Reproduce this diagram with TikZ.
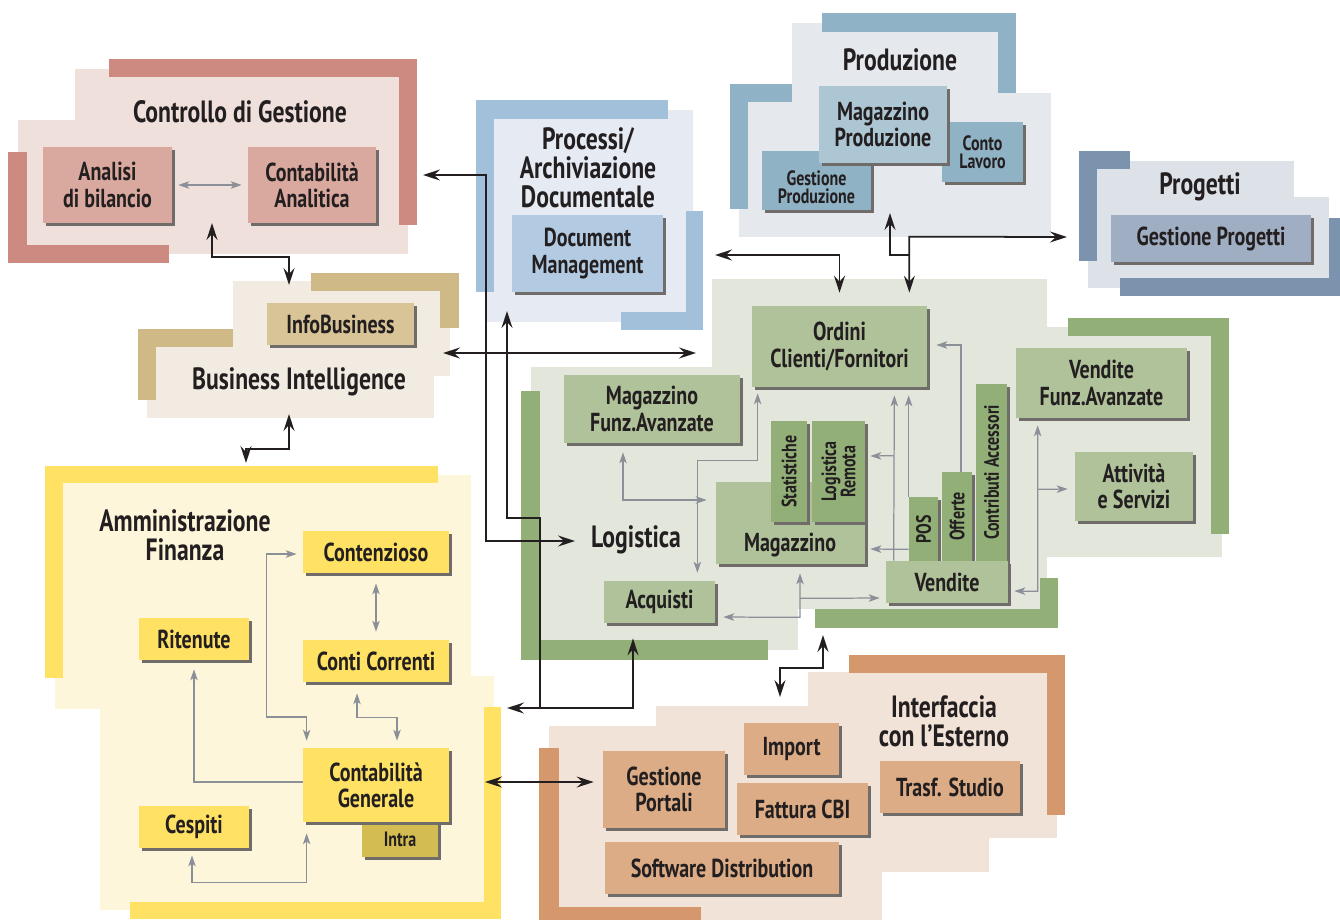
\documentclass[tikz,border=0pt]{standalone}
\usepackage{fontspec}
\setmainfont{PT Sans}[FakeStretch=0.77]
\usetikzlibrary{arrows.meta,calc}

\definecolor{txt}{HTML}{231F20}
\definecolor{shadowc}{HTML}{6F6C69}
\definecolor{grayarr}{HTML}{8A8F98}
\definecolor{cgbar}{HTML}{CD8A80}
\definecolor{cgbg}{HTML}{F0E0DC}
\definecolor{cgbox}{HTML}{D9A89E}
\definecolor{pabar}{HTML}{A3C0DB}
\definecolor{pabg}{HTML}{E5EAF3}
\definecolor{pabox}{HTML}{B3CBE2}
\definecolor{prbar}{HTML}{8FB2C6}
\definecolor{prbg}{HTML}{E5E9EE}
\definecolor{prbox}{HTML}{ADC6D3}
\definecolor{prdark}{HTML}{90B2C5}
\definecolor{pgbar}{HTML}{7B93AC}
\definecolor{pgbg}{HTML}{DDE2E8}
\definecolor{pgbox}{HTML}{9FAEC2}
\definecolor{bibar}{HTML}{CFB987}
\definecolor{bibg}{HTML}{F1EBE1}
\definecolor{bibox}{HTML}{D8C496}
\definecolor{lgbar}{HTML}{92AF78}
\definecolor{lgbg}{HTML}{E3E7DB}
\definecolor{lgbox}{HTML}{B0C29A}
\definecolor{afbar}{HTML}{FFE263}
\definecolor{afbg}{HTML}{FEF6DB}
\definecolor{afintra}{HTML}{D3BC52}
\definecolor{iebar}{HTML}{D4986C}
\definecolor{iebg}{HTML}{F2E3D8}
\definecolor{iebox}{HTML}{DBAC86}

\begin{document}
\begin{tikzpicture}[x=0.2mm,y=-0.2mm,
		shad/.style={
			preaction={fill=shadowc,transform canvas={xshift=0.6mm,yshift=-0.6mm}}
		},
		lbl/.style={
			inner sep=0pt,
			align=center,
			text=txt,
			font=\bfseries\fontsize{14.8}{15}\selectfont
		},
		box/.style={shad,lbl},
		small/.style={font=\bfseries\fontsize{11.8}{10.5}\selectfont},
		vert/.style={
			rotate=90,
			align=center,
			text=txt,
			font=\bfseries\fontsize{11.8}{11}\selectfont
		},
		title/.style={
			align=center,
			text=txt,
			font=\bfseries\fontsize{17.5}{16.5}\selectfont
		},
		sz/.style 2 args={minimum width=#1*0.2mm,minimum height=#2*0.2mm},
		barrow/.style={draw=txt,line width=1pt,>={Stealth[length=3.4mm,width=2.2mm,inset=1.2mm]}},
		garrow/.style={draw=grayarr,line width=0.7pt,>={Stealth[length=2.2mm,width=1.5mm,inset=0.6mm]}}
		]
		\useasboundingbox (0,0) rectangle (1340,920);

		% Controllo di Gestione
		\foreach \xa/\ya/\xb/\yb in {75/69/408/254, 18/120/408/254}
			\fill[cgbg] (\xa,\ya) rectangle (\xb,\yb);
		\foreach \xa/\ya/\xb/\yb in {109/59/417/77, 399/59/417/225, 8/152/27/263, 8/245/169/263}
			\fill[cgbar] (\xa,\ya) rectangle (\xb,\yb);
		\node[title] (cgtitle) at (240,112) {Controllo di Gestione};
		\node[box,fill=cgbox,sz={129}{76}] (analisi) at (107.5,185) {Analisi\\di bilancio};
		\node[box,fill=cgbox,sz={128}{76}] (contan) at (312,185) {Contabilità\\Analitica};

		% Processi
		\fill[pabg] (487,110) rectangle (693,322);
		\foreach \xa/\ya/\xb/\yb in {476/100/668/119, 476/100/494/292, 686/211/703/330, 621/312/703/330}
			\fill[pabar] (\xa,\ya) rectangle (\xb,\yb);
		\node[title] (patitle) at (588,168) {Processi/\\Archiviazione\\Documentale};
		\node[box,fill=pabox,sz={151}{77}] (docman) at (587.5,253.5) {Document\\Management};

		% Produzione
		\foreach \xa/\ya/\xb/\yb in {792/23/1005/237, 739/93/1051/237}
			\fill[prbg] (\xa,\ya) rectangle (\xb,\yb);
		\foreach \xa/\ya/\xb/\yb in {822/13/1016/32, 998/13/1016/93, 730/84/748/209, 730/84/792/102}
			\fill[prbar] (\xa,\ya) rectangle (\xb,\yb);
		\node[title] (prtitle) at (900,60) {Produzione};
		\node[box,fill=prdark,sz={109}{59}] (gestprod) at (816.5,180.5) {};
		\node[lbl,small] (gestprod-t) at (816.5,187) {Gestione\\Produzione};
		\node[box,small,fill=prdark,sz={81}{60}] (contolav) at (982.5,152) {Conto\\Lavoro};
		\node[box,fill=prbox,sz={128}{77}] (magprod) at (883,124.5) {Magazzino\\Produzione};

		% Progetti
		\foreach \xa/\ya/\xb/\yb in {1088/161/1294/288, 1088/197/1329/288}
			\fill[pgbg] (\xa,\ya) rectangle (\xb,\yb);
		\foreach \xa/\ya/\xb/\yb in {1079/151/1097/261, 1079/151/1130/169, 1329/218/1340/296, 1120/278/1340/296}
			\fill[pgbar] (\xa,\ya) rectangle (\xb,\yb);
		\node[title] (pgtitle) at (1200,187) {Progetti};
		\node[box,fill=pgbox,sz={200}{47}] (gestprog) at (1211,238.5) {Gestione Progetti};

		% Business Intelligence
		\foreach \xa/\ya/\xb/\yb in {233/281/450/376, 147/347/434/418}
			\fill[bibg] (\xa,\ya) rectangle (\xb,\yb);
		\foreach \xa/\ya/\xb/\yb in {311/273/459/291, 440/273/459/328, 138/329/156/400, 138/329/233/347}
			\fill[bibar] (\xa,\ya) rectangle (\xb,\yb);
		\node[box,fill=bibox,sz={147}{42}] (infobus) at (340.5,324) {InfoBusiness};
		\node[title] (bititle) at (299,382) {Business Intelligence};

		% Amministrazione Finanza
		\foreach \xa/\ya/\xb/\yb in {55/475/471/709, 100/676/494/910}
			\fill[afbg] (\xa,\ya) rectangle (\xb,\yb);
		\foreach \xa/\ya/\xb/\yb in {45/466/438/483, 45/466/63/678, 484/707/501/919, 130/902/501/919}
			\fill[afbar] (\xa,\ya) rectangle (\xb,\yb);
		\node[title] (aftitle) at (185,535) {Amministrazione\\Finanza};
		\node[box,fill=afbar,sz={146}{42}] (contenz) at (376,552) {Contenzioso};
		\node[box,fill=afbar,sz={146}{42}] (conti) at (376,661) {Conti Correnti};
		\node[box,fill=afbar,sz={110}{42}] (ritenute) at (194,639) {Ritenute};
		\node[box,small,fill=afintra,sz={76}{35}] (intra) at (400,839.5) {Intra};
		\node[box,fill=afbar,sz={146}{74}] (contgen) at (376,785) {Contabilità\\Generale};
		\node[box,fill=afbar,sz={110}{42}] (cespiti) at (194,827) {Cespiti};

		% Logistica
		\foreach \xa/\ya/\xb/\yb in {712/279/1047/609, 531/367/798/650, 1040/327/1222/557}
			\fill[lgbg] (\xa,\ya) rectangle (\xb,\yb);
		\foreach \xa/\ya/\xb/\yb in {1068/318/1229/336, 1211/318/1229/534, 521/391/540/660, 521/640/768/660, 815/609/1058/628, 1040/578/1058/628}
			\fill[lgbar] (\xa,\ya) rectangle (\xb,\yb);
		\node[title] (lgtitle) at (636,540) {Logistica};
		\node[box,fill=lgbox,sz={176}{68}] (magfa) at (652,409) {Magazzino\\Funz.Avanzate};
		\node[box,fill=lgbox,sz={175}{81}] (ordini) at (839.5,346.5) {Ordini\\Clienti/Fornitori};
		\node[box,fill=lgbox,sz={171}{70}] (vendfa) at (1101.5,383) {Vendite\\Funz.Avanzate};
		\node[box,fill=lgbox,sz={118}{69}] (attiv) at (1134,486.5) {Attività\\e Servizi};
		\node[box,fill=lgbox,sz={149}{82}] (magaz) at (790.5,523) {};
		\node[lbl] (magaz-t) at (790,545) {Magazzino};
		\node[box,fill=lgbar,sz={36}{101}] (stat) at (789,471.5) {};
		\node[vert] (stat-t) at (stat) {Statistiche};
		\node[box,fill=lgbar,sz={53}{101}] (logrem) at (838.5,471.5) {};
		\node[vert] (logrem-t) at (logrem) {Logistica\\Remota};
		\node[box,fill=lgbar,sz={29}{64}] (pos) at (923.5,529) {};
		\node[vert] (pos-t) at (pos) {POS};
		\node[box,fill=lgbar,sz={30}{89}] (offerte) at (957,516.5) {};
		\node[vert] (offerte-t) at (offerte) {Offerte};
		\node[box,fill=lgbar,sz={31}{177}] (contrib) at (991.5,472.5) {};
		\node[vert] (contrib-t) at (contrib) {Contributi Accessori};
		\node[box,fill=lgbox,sz={122}{42}] (vendite) at (947,582) {Vendite};
		\node[box,fill=lgbox,sz={111}{42}] (acquisti) at (659.5,602) {Acquisti};

		% Interfaccia con l'Esterno
		\foreach \xa/\ya/\xb/\yb in {808/672/1057/838, 656/706/1057/838, 549/726/989/872, 549/726/882/920}
			\fill[iebg] (\xa,\ya) rectangle (\xb,\yb);
		\foreach \xa/\ya/\xb/\yb in {849/655/1065/673, 1047/655/1065/815, 539/748/559/920, 539/907/701/920}
			\fill[iebar] (\xa,\ya) rectangle (\xb,\yb);
		\node[title] (ietitle) at (944,721) {Interfaccia\\con l'Esterno};
		\node[box,fill=iebox,sz={122}{77}] (gestport) at (664,789.5) {Gestione\\Portali};
		\node[box,fill=iebox,sz={95}{52}] (import) at (791.5,749) {Import};
		\node[box,fill=iebox,sz={131}{52}] (fattura) at (802.5,809) {Fattura CBI};
		\node[box,fill=iebox,sz={140}{52}] (trasf) at (950,787) {Trasf. Studio};
		\node[box,fill=iebox,sz={234}{52}] (softdist) at (722,868) {Software Distribution};

		% gray connectors inside the areas
		\draw[garrow,<->,shorten <=1.2mm,shorten >=1.2mm] (analisi) -- (contan);
		\draw[garrow,<->,shorten <=2mm,shorten >=1.6mm] (contenz) -- (conti);
		\draw[garrow,<->] ($(conti.south)+(-19,11)$) -- ++(0,24) -| ($(contgen.north)+(21,-7)$);
		\draw[garrow,<->] ($(contenz.west)+(-6,2)$) -- ++(-30,0) -- ++(0,163) -| ($(contgen.north west)+(4,-7)$);
		\draw[garrow,->] ($(contgen.west)+(0,-3)$) -| ($(ritenute.south)+(0,9)$);
		\draw[garrow,<->] ($(cespiti.south)+(-2,7)$) -- ++(0,27) -| ($(contgen.south west)+(4,11)$);
		\draw[garrow,<->] ($(magfa.south)+(-29,9)$) |- ($(magaz.west)+(-9,-23)$);
		\draw[garrow,<->] ($(ordini.south west)+(6,6)$) -- ++(0,67) -| ($(acquisti.north east)+(-18,-8)$);
		\draw[garrow,->] ($(vendite.north west)+(8,0)$) -- ($(ordini.south east)+(-33,8)$);
		\draw[garrow,->] ($(vendite.north west)+(8,-105)$) -- ($(logrem.east)+(5,-15.5)$);
		\draw[garrow,->] ($(pos.south west)+(0,-12)$) -- ($(magaz.east)+(5,26)$);
		\draw[garrow,->] (pos.north west) -- ($(pos.north west |- ordini.south)+(0,8)$);
		\draw[garrow,->] ($(offerte.north)+(4,0)$) |- ($(ordini.east)+(9,-1.5)$);
		\draw[garrow,<->] ($(magaz.south)+(9.5,9)$) -- ++(0,44) -- ($(acquisti.east)+(8,15)$);
		\draw[garrow,->] ($(magaz.south)+(9.5,34)$) -- ($(vendite.west)+(-6,16)$);
		\draw[garrow,<->] ($(vendfa.south west)+(22,7)$) -- ++(0,166) -- ($(vendite.east)+(6,9)$);
		\draw[garrow,->] ($(vendfa.south west)+(22,71)$) -- ($(attiv.west)+(-7,2.5)$);

		% black connectors between the areas
		\coordinate (cg-s) at (212,223);
		\coordinate (cg-e) at (423,175);
		\coordinate (bi-n) at (289,285);
		\coordinate (bi-s) at (289,414);
		\coordinate (bi-e) at (443,353);
		\coordinate (af-n) at (246,463);
		\coordinate (af-e) at (507,708);
		\coordinate (af-e2) at (485,782);
		\coordinate (pa-s) at (507,311);
		\coordinate (pa-e) at (715,255);
		\coordinate (pr-s) at (890,213);
		\coordinate (pg-w) at (1067,237);
		\coordinate (lg-w) at (575,541);
		\coordinate (lg-nw) at (696,353);
		\coordinate (lg-s) at (823,635);
		\coordinate (ie-n) at (780,697);
		\draw[barrow,<->] (cg-s) -- ++(0,34) -| (bi-n);
		\draw[barrow,<->] (bi-s) -- ++(0,35) -| (af-n);
		\draw[barrow,<->] (cg-e) -- ++(63,0) |- (lg-w);
		\draw[barrow,<->] (bi-e) -- (lg-nw);
		\draw[barrow,<->] (pa-s) -- ++(0,207) -- ++(33,0) |- (af-e);
		\draw[barrow,<-] ($(acquisti.south)+(-26.5,15)$) -- ++(0,70) -- ++(-93,0);
		\draw[barrow,<->,shorten >=2.6mm] (pa-e) -| (ordini.north);
		\draw[barrow,<-] (pr-s) -- ++(0,42) -- ++(19,0);
		\draw[barrow,<->] ($(ordini.north east)+(-18,-13)$) -- ++(0,-56) -- (pg-w);
		\draw[barrow,<->] (lg-s) -- ++(0,33) -| (ie-n);
		\draw[barrow,<->,shorten >=1.8mm] (af-e2) -- (af-e2 -| gestport.west);
\end{tikzpicture}
\end{document}
